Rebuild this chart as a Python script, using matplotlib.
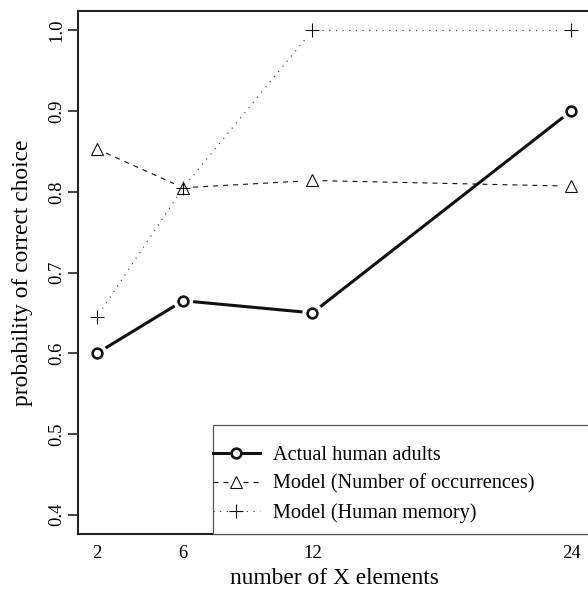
import matplotlib
matplotlib.use('Agg')
import matplotlib.pyplot as plt
import numpy as np
from matplotlib.lines import Line2D
from matplotlib.patches import Rectangle

# ---- data ----
n_elements = [2, 6, 12, 24]
actual_adults = [0.600, 0.665, 0.650, 0.900]
model_occurrences = [0.853, 0.805, 0.814, 0.807]
model_memory = [0.645, 0.805, 1.000, 1.000]
series_labels = ["Actual human adults",
                 "Model (Number of occurrences)",
                 "Model (Human memory)"]
x_tick_labels = ["2", "6", "12", "24"]
y_ticks = [0.4, 0.5, 0.6, 0.7, 0.8, 0.9, 1.0]
y_tick_labels = ["0.4", "0.5", "0.6", "0.7", "0.8", "0.9", "1.0"]

plt.rcParams['font.family'] = ['Liberation Serif', 'DejaVu Serif']

W, H = 588, 590
fig = plt.figure(figsize=(W / 100, H / 100), dpi=100)
ax = fig.add_axes([78 / W, 1 - 534 / H, 512 / W, 523 / H])
ax.set_xlim(1.12, 24.88)
ax.set_ylim(0.376, 1.024)

INK = '#111111'


def gapped(ax, x, y, gap_px, **kw):
    """R type='b' style: line segments that stop short of the points."""
    pts = ax.transData.transform(np.column_stack([x, y]))
    inv = ax.transData.inverted()
    for p, q in zip(pts[:-1], pts[1:]):
        d = q - p
        L = np.hypot(*d)
        if L <= 2 * gap_px:
            continue
        u = d / L
        a = inv.transform(p + u * gap_px)
        b = inv.transform(q - u * gap_px)
        ax.plot([a[0], b[0]], [a[1], b[1]], solid_capstyle='butt', **kw)


GAP = 10
# actual human adults
gapped(ax, n_elements, actual_adults, GAP, color=INK, lw=2.2)
ax.plot(n_elements, actual_adults, ls='none', marker='o', ms=7,
        mfc='none', mec=INK, mew=1.9)
# model occurrences
gapped(ax, n_elements, model_occurrences, GAP, color=INK, lw=0.8,
       ls=(0, (4.5, 4.5)))
ax.plot(n_elements, model_occurrences, ls='none', marker='^', ms=8.5,
        mfc='none', mec=INK, mew=0.8)
# model memory
gapped(ax, n_elements, model_memory, GAP, color='#333333', lw=0.8,
       ls=(0, (1, 5)))
ax.plot(n_elements, model_memory, ls='none', marker='+', ms=10,
        mec=INK, mew=0.8)

# axes styling
for s in ax.spines.values():
    s.set_linewidth(1.5)
    s.set_color('#222222')
ax.set_xticks(n_elements)
ax.set_xticklabels(x_tick_labels)
ax.set_yticks(y_ticks)
ax.set_yticklabels(y_tick_labels, rotation=90, va='center')
ax.tick_params(axis='both', length=7, width=1.2, color='#222222',
               labelsize=13.4)
ax.tick_params(axis='x', length=0, pad=8.0)
ax.tick_params(axis='y', pad=2)

ax.set_xlabel("number of X elements", fontsize=16.8, va='center')
ax.xaxis.set_label_coords(0.5, -45 / 523)
ax.set_ylabel("probability of correct choice", fontsize=16.8, va='center')
ax.yaxis.set_label_coords(-56 / 512, 0.5)

# legend box (R style)
box_x0 = (213 - 78) / 512
box_top = (534 - 425) / 523
ax.add_patch(Rectangle((box_x0, 0), 1.0 - box_x0 + 0.02, box_top,
                       transform=ax.transAxes, facecolor='white',
                       edgecolor='#555555', lw=0.9, clip_on=False, zorder=5))

handles = [
    Line2D([], [], color=INK, lw=2.2, marker='o', ms=7, mfc='white',
           mec=INK, mew=1.9),
    Line2D([], [], color=INK, lw=0.8, ls=(0, (4.5, 4.5)), marker='^',
           ms=8.5, mfc='white', mec=INK, mew=0.8),
    Line2D([], [], color='#333333', lw=0.8, ls=(0, (1, 5)), marker='+',
           ms=10, mec=INK, mew=0.8),
]
leg = ax.legend(handles, series_labels, loc='upper left',
                bbox_to_anchor=(box_x0, (534 - 446) / 523),
                frameon=False, fontsize=14.6, handlelength=2.3,
                handletextpad=0.64, borderpad=0, borderaxespad=0,
                labelspacing=0.45, numpoints=1)
leg.set_zorder(6)

fig.savefig('out.png', dpi=100)
